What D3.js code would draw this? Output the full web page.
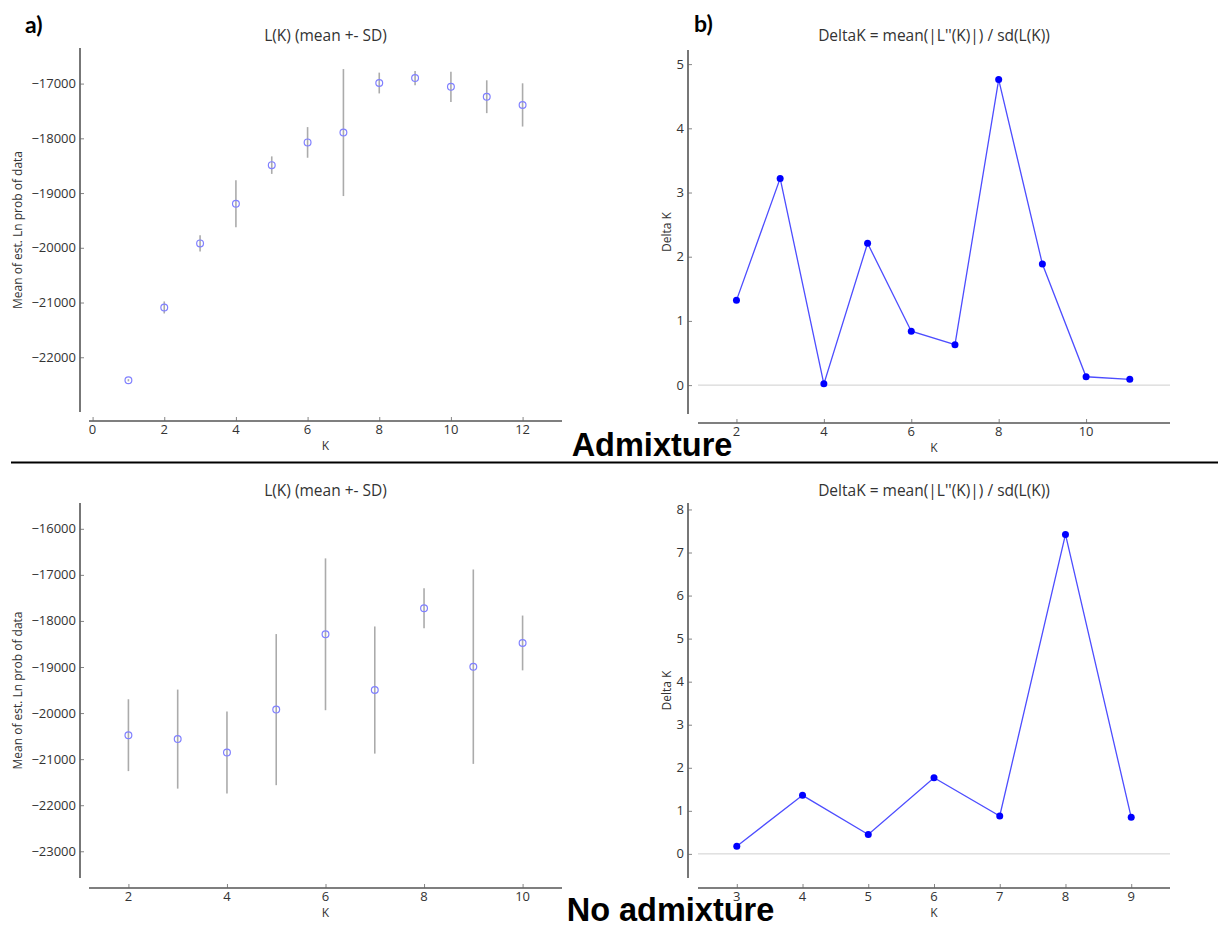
<!DOCTYPE html>
<html>
<head>
<meta charset="utf-8">
<script src="https://cdn.jsdelivr.net/npm/d3@7"></script>
<style>
  html, body { margin: 0; padding: 0; background: #fff; }
  svg { display: block; }
  .tick-label, .axis-label, .panel-title { font-family: "Open Sans", sans-serif; fill: #333; }
</style>
</head>
<body>
<svg id="chart" width="1218" height="930"></svg>
<script>
// ---- Data: STRUCTURE runs with the admixture model ----
const kAdmixL = [1, 2, 3, 4, 5, 6, 7, 8, 9, 10, 11, 12];
const meanAdmixL = [-22420, -21090, -19920, -19195, -18490, -18075, -17895, -16990, -16900, -17060, -17240, -17390];
const sdAdmixL = [20, 110, 150, 430, 160, 280, 1160, 190, 130, 275, 300, 395];

const kAdmixDelta = [2, 3, 4, 5, 6, 7, 8, 9, 10, 11];
const deltaAdmix = [1.32, 3.22, 0.02, 2.21, 0.84, 0.63, 4.76, 1.885, 0.13, 0.09];

// ---- Data: STRUCTURE runs without admixture ----
const kNoAdmixL = [2, 3, 4, 5, 6, 7, 8, 9, 10];
const meanNoAdmixL = [-20480, -20565, -20855, -19925, -18290, -19500, -17726, -18993, -18478];
const sdNoAdmixL = [780, 1075, 890, 1640, 1648, 1380, 435, 2110, 595];

const kNoAdmixDelta = [3, 4, 5, 6, 7, 8, 9];
const deltaNoAdmix = [0.18, 1.36, 0.45, 1.77, 0.88, 7.42, 0.85];

// ---- Tick values ----
const xTicksAdmixL = [0, 2, 4, 6, 8, 10, 12];
const yTicksAdmixL = [-22000, -21000, -20000, -19000, -18000, -17000];
const xTicksAdmixDelta = [2, 4, 6, 8, 10];
const yTicksAdmixDelta = [0, 1, 2, 3, 4, 5];
const xTicksNoAdmixL = [2, 4, 6, 8, 10];
const yTicksNoAdmixL = [-23000, -22000, -21000, -20000, -19000, -18000, -17000, -16000];
const xTicksNoAdmixDelta = [3, 4, 5, 6, 7, 8, 9];
const yTicksNoAdmixDelta = [0, 1, 2, 3, 4, 5, 6, 7, 8];

const svg = d3.select("#chart");
const fmt = d3.format("d");

// Draws one matplotlib-style panel with offset spines and inward ticks.
function panel(cfg) {
  const g = svg.append("g");
  const x = d3.scaleLinear().domain(cfg.xDomain).range([cfg.xSpine[0], cfg.xSpine[1]]);
  const y = d3.scaleLinear().domain(cfg.yDomain).range([cfg.ySpine[1], cfg.ySpine[0]]);

  // y spine + ticks
  const yAxis = d3.axisRight(y).tickValues(cfg.yTicks).tickSize(4).tickFormat("");
  const ya = g.append("g").attr("transform", `translate(${cfg.ySpineX},0)`).call(yAxis);
  ya.select(".domain").attr("d", `M0,${cfg.ySpine[0]}V${cfg.ySpine[1]}`)
    .attr("stroke", "#555").attr("stroke-width", 1.6);
  ya.selectAll(".tick line").attr("stroke", "#666").attr("stroke-width", 0.8);
  g.selectAll(null).data(cfg.yTicks).enter().append("text")
    .attr("class", "tick-label")
    .attr("x", cfg.ySpineX - 4).attr("y", d => y(d)).attr("dy", "0.35em")
    .attr("text-anchor", "end").attr("font-size", 13).text(fmt);

  // x spine + ticks
  const xAxis = d3.axisTop(x).tickValues(cfg.xTicks).tickSize(4).tickFormat("");
  const xa = g.append("g").attr("transform", `translate(0,${cfg.xSpineY})`).call(xAxis);
  xa.select(".domain").attr("d", `M${cfg.xSpine[0]},0H${cfg.xSpine[1]}`)
    .attr("stroke", "#555").attr("stroke-width", 1.6);
  xa.selectAll(".tick line").attr("stroke", "#666").attr("stroke-width", 0.8);
  g.selectAll(null).data(cfg.xTicks).enter().append("text")
    .attr("class", "tick-label")
    .attr("x", d => x(d)).attr("y", cfg.xSpineY + 12.5)
    .attr("text-anchor", "middle").attr("font-size", 13).text(fmt);

  // title and axis labels
  g.append("text").attr("class", "panel-title")
    .attr("x", (cfg.xSpine[0] + cfg.xSpine[1]) / 2).attr("y", cfg.titleY)
    .attr("text-anchor", "middle").attr("font-size", 15.5).text(cfg.title);
  g.append("text").attr("class", "axis-label")
    .attr("x", (cfg.xSpine[0] + cfg.xSpine[1]) / 2).attr("y", cfg.xSpineY + 28.5)
    .attr("text-anchor", "middle").attr("font-size", 12).text("K");
  const ly = (cfg.ySpine[0] + cfg.ySpine[1]) / 2;
  g.append("text").attr("class", "axis-label")
    .attr("transform", `translate(${cfg.yLabelX},${ly}) rotate(-90)`)
    .attr("text-anchor", "middle").attr("font-size", 12).text(cfg.yLabel);

  return { g, x, y };
}

// L(K) panel: mean with +- SD bars, hollow circles
function lkPanel(cfg, ks, means, sds) {
  const { g, x, y } = panel(cfg);
  const pts = ks.map((k, i) => ({ k, m: means[i], s: sds[i] }));
  g.selectAll(null).data(pts).enter().append("line")
    .attr("x1", d => x(d.k)).attr("x2", d => x(d.k))
    .attr("y1", d => y(d.m - d.s)).attr("y2", d => y(d.m + d.s))
    .attr("stroke", "#ababab").attr("stroke-width", 1.6);
  g.selectAll(null).data(pts).enter().append("circle")
    .attr("cx", d => x(d.k)).attr("cy", d => y(d.m)).attr("r", 3.4)
    .attr("fill", "none").attr("stroke", "#8080ff").attr("stroke-width", 1.2);
}

// Delta K panel: zero reference line, blue polyline with filled markers
function deltaPanel(cfg, ks, vals) {
  const { g, x, y } = panel(cfg);
  g.append("line")
    .attr("x1", cfg.xSpine[0]).attr("x2", cfg.xSpine[1])
    .attr("y1", y(0)).attr("y2", y(0))
    .attr("stroke", "#cfcfcf").attr("stroke-width", 1);
  const pts = ks.map((k, i) => ({ k, v: vals[i] }));
  g.append("path").datum(pts)
    .attr("d", d3.line().x(d => x(d.k)).y(d => y(d.v)))
    .attr("fill", "none").attr("stroke", "#4d4dff").attr("stroke-width", 1.3);
  g.selectAll(null).data(pts).enter().append("circle")
    .attr("cx", d => x(d.k)).attr("cy", d => y(d.v)).attr("r", 3.5)
    .attr("fill", "#0000ff");
}

const lkTitle = "L(K) (mean +- SD)";
const dkTitle = "DeltaK = mean(|L''(K)|) / sd(L(K))";
const lkYLabel = "Mean of est. Ln prob of data";

lkPanel({
  xDomain: [-0.1, 13.1], yDomain: [-23000, -16350],
  xSpine: [89, 562], xSpineY: 421, ySpine: [48, 412], ySpineX: 80,
  xTicks: xTicksAdmixL, yTicks: yTicksAdmixL,
  title: lkTitle, titleY: 41, yLabel: lkYLabel, yLabelX: 22
}, kAdmixL, meanAdmixL, sdAdmixL);

deltaPanel({
  xDomain: [1.12, 11.92], yDomain: [-0.45, 5.22],
  xSpine: [698, 1170], xSpineY: 423, ySpine: [50, 414], ySpineX: 688,
  xTicks: xTicksAdmixDelta, yTicks: yTicksAdmixDelta,
  title: dkTitle, titleY: 41, yLabel: "Delta K", yLabelX: 671
}, kAdmixDelta, deltaAdmix);

lkPanel({
  xDomain: [1.2, 10.8], yDomain: [-23580, -15440],
  xSpine: [89, 562], xSpineY: 888, ySpine: [503, 878], ySpineX: 80,
  xTicks: xTicksNoAdmixL, yTicks: yTicksNoAdmixL,
  title: lkTitle, titleY: 496, yLabel: lkYLabel, yLabelX: 22
}, kNoAdmixL, meanNoAdmixL, sdNoAdmixL);

deltaPanel({
  xDomain: [2.41, 9.59], yDomain: [-0.56, 8.15],
  xSpine: [698, 1170], xSpineY: 888, ySpine: [503, 878], ySpineX: 688,
  xTicks: xTicksNoAdmixDelta, yTicks: yTicksNoAdmixDelta,
  title: dkTitle, titleY: 496, yLabel: "Delta K", yLabelX: 671
}, kNoAdmixDelta, deltaNoAdmix);

// Panel letters
svg.append("text").attr("x", 25).attr("y", 33)
  .attr("font-family", "Lato, sans-serif").attr("font-weight", "bold").attr("font-size", 23)
  .attr("fill", "#000").text("a)");
svg.append("text").attr("x", 694).attr("y", 32)
  .attr("font-family", "Lato, sans-serif").attr("font-weight", "bold").attr("font-size", 23)
  .attr("fill", "#000").text("b)");

// Section captions and divider
svg.append("line").attr("x1", 11).attr("x2", 1218).attr("y1", 462.5).attr("y2", 462.5)
  .attr("stroke", "#000").attr("stroke-width", 2);
svg.append("text").attr("x", 652).attr("y", 456).attr("text-anchor", "middle")
  .attr("font-family", "Liberation Sans, Arial, sans-serif").attr("font-weight", "bold")
  .attr("font-size", 32.5).attr("fill", "#000").text("Admixture");
svg.append("text").attr("x", 670.5).attr("y", 921).attr("text-anchor", "middle")
  .attr("font-family", "Liberation Sans, Arial, sans-serif").attr("font-weight", "bold")
  .attr("font-size", 32.5).attr("fill", "#000").text("No admixture");
</script>
</body>
</html>
